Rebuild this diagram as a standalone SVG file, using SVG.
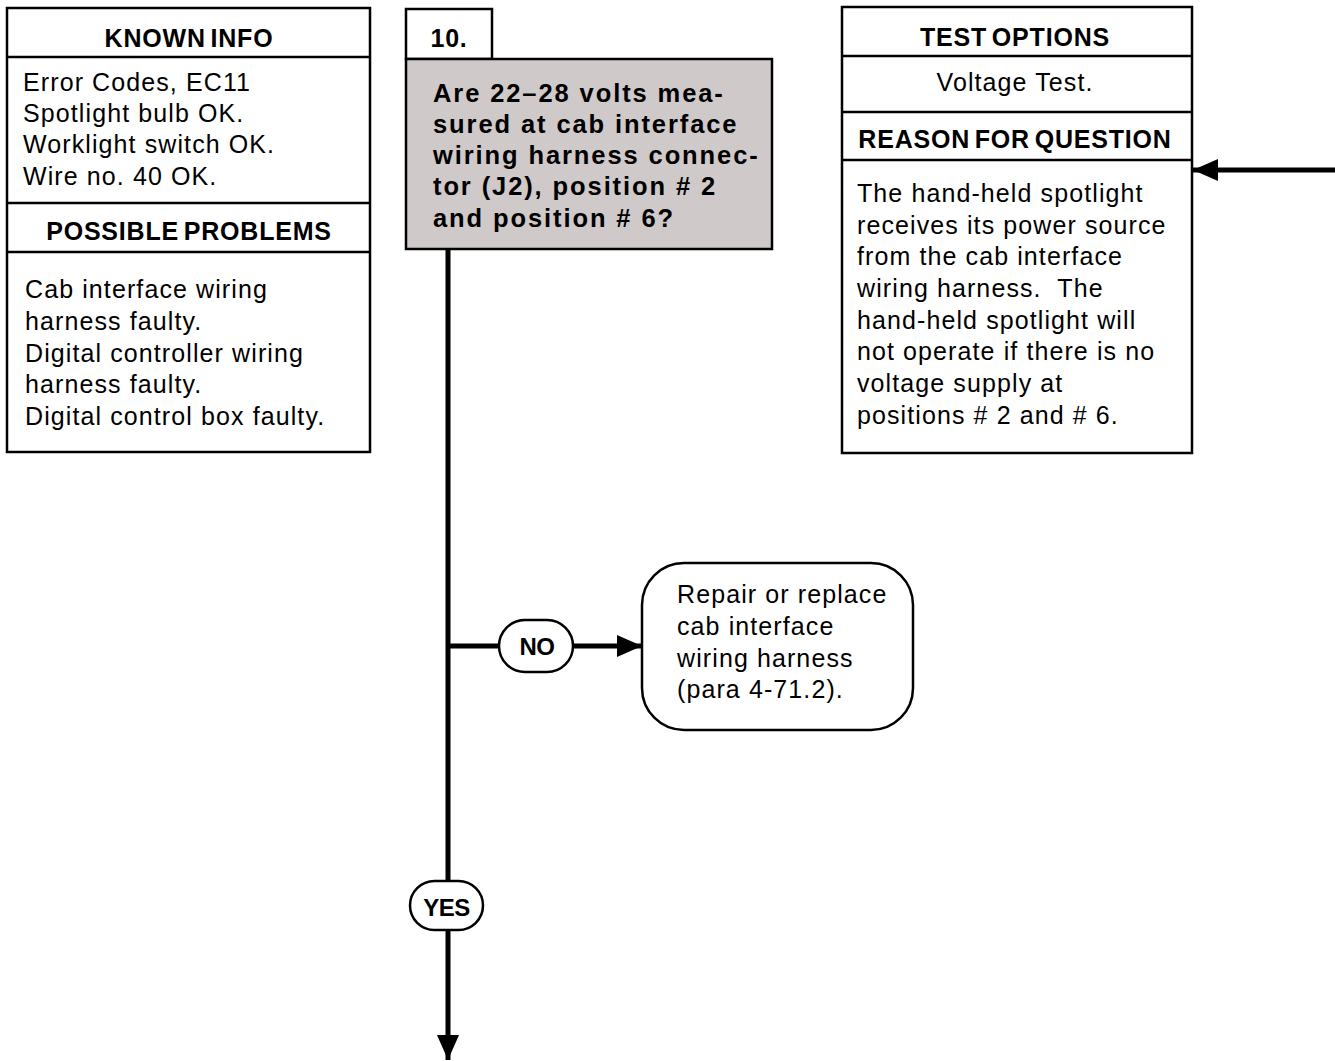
<svg xmlns="http://www.w3.org/2000/svg" width="1335" height="1061" viewBox="0 0 1335 1061">
<style>
.box{fill:#fff;stroke:#000;stroke-width:2.5}
.q{fill:#d0c9c9;stroke:#000;stroke-width:2.5}
.div{stroke:#000;stroke-width:2.5}
.h{font-family:"Liberation Sans",Arial,sans-serif;font-weight:bold;font-size:25px;letter-spacing:0.8px;word-spacing:-3px;text-anchor:middle}
.t{font-family:"Liberation Sans",Arial,sans-serif;font-size:25px;letter-spacing:1.1px}
.qt{font-family:"Liberation Sans",Arial,sans-serif;font-weight:bold;font-size:25.5px;letter-spacing:1.9px}
.lbl{font-family:"Liberation Sans",Arial,sans-serif;font-weight:bold;font-size:24px;letter-spacing:-0.5px;text-anchor:middle}
.ln{stroke:#000;stroke-width:5;fill:none}
</style>
<defs>
<marker id="ah" markerUnits="userSpaceOnUse" markerWidth="26" markerHeight="24" refX="25" refY="11" orient="auto">
<path d="M0,0 L25,11 L0,22 Z" fill="#000"/>
</marker>
</defs>
<g id="known-info">
<rect class="box" x="7" y="8" width="363" height="444"/>
<line class="div" x1="7" y1="57" x2="370" y2="57"/>
<line class="div" x1="7" y1="203" x2="370" y2="203"/>
<line class="div" x1="7" y1="252" x2="370" y2="252"/>
<text class="h" x="189" y="47">KNOWN INFO</text>
<text class="t" x="23" y="91">Error Codes, EC11</text>
<text class="t" x="23" y="122">Spotlight bulb OK.</text>
<text class="t" x="23" y="153">Worklight switch OK.</text>
<text class="t" x="23" y="185">Wire no. 40 OK.</text>
<text class="h" x="189" y="240">POSSIBLE PROBLEMS</text>
<text class="t" x="25" y="298">Cab interface wiring</text>
<text class="t" x="25" y="330">harness faulty.</text>
<text class="t" x="25" y="362">Digital controller wiring</text>
<text class="t" x="25" y="393">harness faulty.</text>
<text class="t" x="25" y="425">Digital control box faulty.</text>
</g>
<g id="step-10">
<rect class="box" x="406" y="9" width="86" height="50"/>
<text class="h" x="449" y="47">10.</text>
</g>
<g id="question">
<rect class="q" x="406" y="59" width="366" height="190"/>
<text class="qt" x="433" y="102">Are 22–28 volts mea-</text>
<text class="qt" x="433" y="133">sured at cab interface</text>
<text class="qt" x="433" y="164">wiring harness connec-</text>
<text class="qt" x="433" y="195">tor (J2), position # 2</text>
<text class="qt" x="433" y="227">and position # 6?</text>
</g>
<g id="test-options">
<rect class="box" x="842" y="7" width="350" height="446"/>
<line class="div" x1="842" y1="56" x2="1192" y2="56"/>
<line class="div" x1="842" y1="112" x2="1192" y2="112"/>
<line class="div" x1="842" y1="160" x2="1192" y2="160"/>
<text class="h" x="1015" y="46">TEST OPTIONS</text>
<text class="t" x="1015" y="91" text-anchor="middle">Voltage Test.</text>
<text class="h" x="1015" y="148">REASON FOR QUESTION</text>
<text class="t" x="857" y="202">The hand-held spotlight</text>
<text class="t" x="857" y="234">receives its power source</text>
<text class="t" x="857" y="265">from the cab interface</text>
<text class="t" x="857" y="297" xml:space="preserve">wiring harness.  The</text>
<text class="t" x="857" y="329">hand-held spotlight will</text>
<text class="t" x="857" y="360">not operate if there is no</text>
<text class="t" x="857" y="392">voltage supply at</text>
<text class="t" x="857" y="424">positions # 2 and # 6.</text>
</g>
<g id="repair">
<rect class="box" x="642" y="563" width="271" height="167" rx="42" ry="42"/>
<text class="t" x="677" y="603">Repair or replace</text>
<text class="t" x="677" y="635">cab interface</text>
<text class="t" x="677" y="667">wiring harness</text>
<text class="t" x="677" y="698">(para 4-71.2).</text>
</g>
<g id="connectors">
<line class="ln" x1="1335" y1="170" x2="1193" y2="170" marker-end="url(#ah)"/>
<line class="ln" x1="448" y1="249" x2="448" y2="881"/>
<line class="ln" x1="448" y1="646" x2="499" y2="646"/>
<line class="ln" x1="573" y1="646" x2="642" y2="646" marker-end="url(#ah)"/>
<line class="ln" x1="448" y1="930" x2="448" y2="1060" marker-end="url(#ah)"/>
<g id="label-no">
<rect class="box" x="499" y="620" width="74" height="52" rx="26" ry="26"/>
<text class="lbl" x="537" y="655">NO</text>
</g>
<g id="label-yes">
<rect class="box" x="410" y="881" width="73" height="49" rx="24.5" ry="24.5"/>
<text class="lbl" x="446.5" y="916">YES</text>
</g>
</g>
</svg>
